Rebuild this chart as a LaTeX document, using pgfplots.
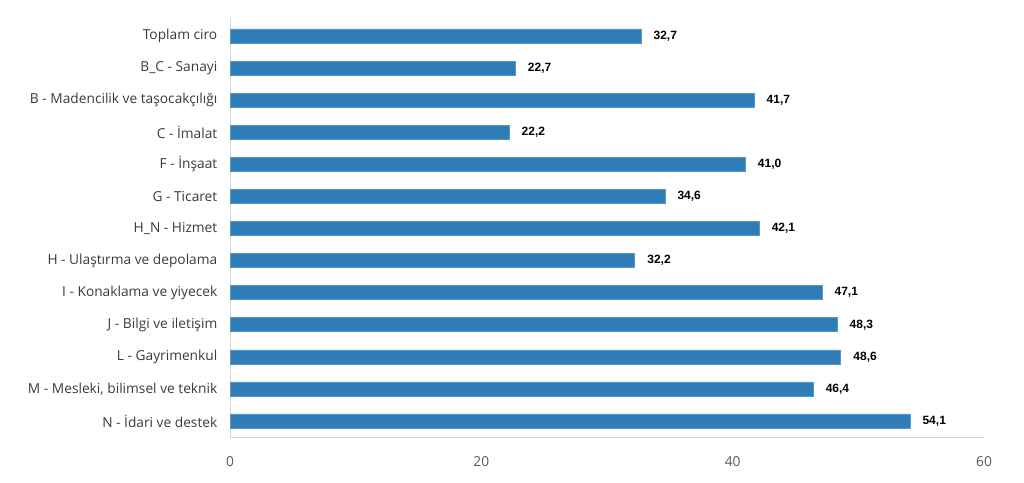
\documentclass[border=0pt]{standalone}
\usepackage{pgfplots}
\pgfplotsset{compat=1.18}
\usepackage{pgfplotstable}
\usepackage{fontspec}
\setmainfont{Open Sans}
\newfontfamily\valfont{Liberation Sans}
\definecolor{barblue}{HTML}{2F7DB8}
\definecolor{axgray}{HTML}{D9D9D9}
\definecolor{labgray}{HTML}{3A3A3A}
\definecolor{tickgray}{HTML}{595959}
\pgfplotstableread{
idx val lab
0 32.7 32,7
1 22.7 22,7
2 41.7 41,7
3 22.2 22,2
4 41.0 41,0
5 34.6 34,6
6 42.1 42,1
7 32.2 32,2
8 47.1 47,1
9 48.3 48,3
10 48.6 48,6
11 46.4 46,4
12 54.1 54,1
}\datatable
\begin{document}
\begin{tikzpicture}[x=0.75pt,y=0.75pt]
\useasboundingbox (0,0) rectangle (1024,482);
\begin{axis}[
  at={(230*0.75pt,45*0.75pt)}, anchor=south west,
  scale only axis, width=565.5pt, height=314.25pt,
  xmin=0, xmax=60, xtick={0,20,40,60},
  ymin=-0.561, ymax=12.499, y dir=reverse,
  ytick={0,...,12},
  yticklabels={Toplam ciro, B\_C - Sanayi, B - Madencilik ve taşocakçılığı, C - İmalat, F - İnşaat, G - Ticaret, H\_N - Hizmet, H - Ulaştırma ve depolama, I - Konaklama ve yiyecek, J - Bilgi ve iletişim, L - Gayrimenkul, {M - Mesleki, bilimsel ve teknik}, N - İdari ve destek},
  axis x line*=bottom, axis y line*=left,
  axis line style={draw=axgray, line width=0.75pt},
  x axis line style={-}, y axis line style={-},
  major tick length=0pt,
  tick style={draw=none},
  xticklabel style={font=\fontsize{10.3}{12}\selectfont, text=tickgray, yshift=-11pt},
  yticklabel style={font=\fontsize{10.3}{12}\selectfont, text=labgray, xshift=-6pt},
  /pgf/number format/assume math mode=true,
  xbar, bar width=10.5pt,
  nodes near coords,
  point meta=explicit symbolic,
  nodes near coords style={font=\valfont\bfseries\fontsize{9}{10}\selectfont, text=black, anchor=west, xshift=6pt},
  clip=false,
]
\addplot[fill=barblue, draw=barblue!80!white, line width=0.4pt] table[x=val, y=idx, meta=lab] {\datatable};
\end{axis}
\end{tikzpicture}
\end{document}
